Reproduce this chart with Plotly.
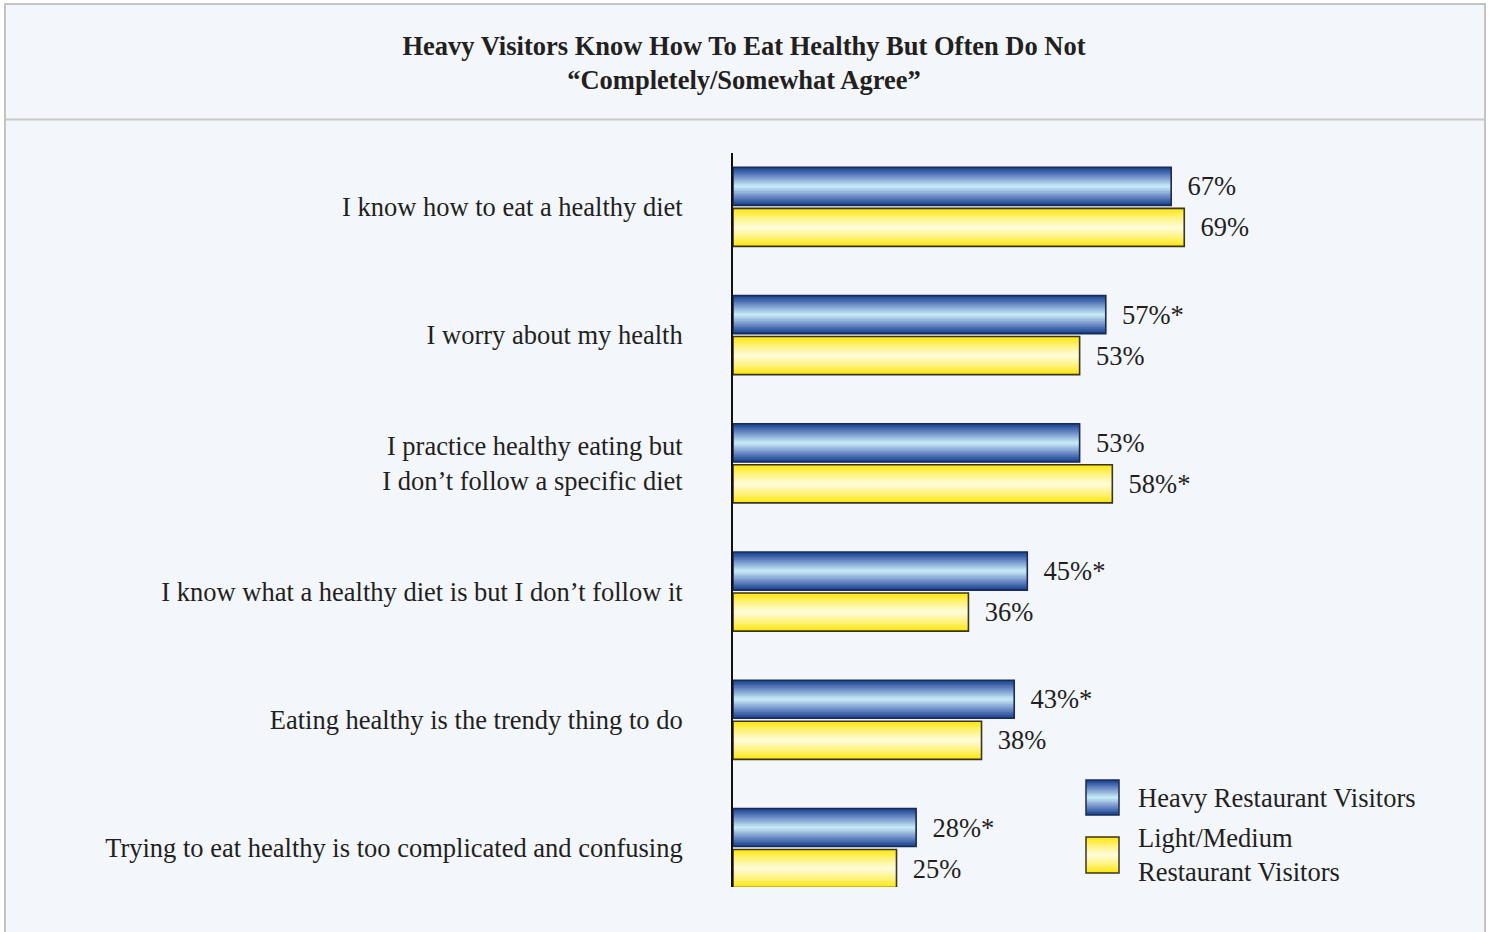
import plotly.graph_objects as go

# ---------------- data ----------------
categories = [
    "I know how to eat a healthy diet",
    "I worry about my health",
    "I practice healthy eating but<br>I don\u2019t follow a specific diet",
    "I know what a healthy diet is but I don\u2019t follow it",
    "Eating healthy is the trendy thing to do",
    "Trying to eat healthy is too complicated and confusing",
]
heavy = [67, 57, 53, 45, 43, 28]
light = [69, 53, 58, 36, 38, 25]
heavy_labels = ["67%", "57%*", "53%", "45%*", "43%*", "28%*"]
light_labels = ["69%", "53%", "58%*", "36%", "38%", "25%"]
series_names = ["Heavy Restaurant Visitors", "Light/Medium<br>Restaurant Visitors"]
title_text = "Heavy Visitors Know How To Eat Healthy But Often Do Not<br>\u201cCompletely/Somewhat Agree\u201d"

# ---------------- styling ----------------
W, H = 1491, 932
PL, PR, PT, PB = 733, 1387, 153, 887   # plot area in pixels
FONT = "Liberation Serif, Times New Roman, serif"
TXT = "#231f20"
FS = 26.5
BAR_W = 0.297
OFF = 0.16
K = 12  # gradient layers

blue_stops = [(0.0, (0x1a, 0x45, 0x90)), (0.45, (0x6a, 0x88, 0xc5)), (1.0, (0xc2, 0xe6, 0xf3))]
yellow_stops = [(0.0, (0xff, 0xe6, 0x10)), (0.5, (0xff, 0xf3, 0x80)), (1.0, (0xff, 0xfb, 0xd4))]


def interp(stops, t):
    for (t0, c0), (t1, c1) in zip(stops[:-1], stops[1:]):
        if t <= t1:
            f = (t - t0) / (t1 - t0) if t1 > t0 else 0
            c = [round(a + (b - a) * f) for a, b in zip(c0, c1)]
            return "rgb(%d,%d,%d)" % tuple(c)
    return "rgb(%d,%d,%d)" % stops[-1][1]


def px_x(px):
    return (px - PL) / (PR - PL)


def px_y(py):
    return (PB - py) / (PB - PT)


fig = go.Figure()

for vals, labels, stops, center, outline in [
    (heavy, heavy_labels, blue_stops, -OFF, "#1b2a55"),
    (light, light_labels, yellow_stops, OFF, "#3a3520"),
]:
    for k in range(K):
        w = BAR_W * (1 - k / K)
        fig.add_trace(go.Bar(
            x=vals, y=categories, orientation="h",
            width=w, offset=center - w / 2,
            marker=dict(color=interp(stops, k / (K - 1)), line=dict(width=0)),
            showlegend=False, hoverinfo="skip",
        ))
    # outline + value labels
    fig.add_trace(go.Bar(
        x=vals, y=categories, orientation="h",
        width=BAR_W, offset=center - BAR_W / 2,
        marker=dict(color="rgba(0,0,0,0)", line=dict(width=1.6, color=outline)),
        text=["\u00a0\u00a0" + t for t in labels], textposition="outside",
        textfont=dict(family=FONT, size=FS, color=TXT),
        constraintext="none", cliponaxis=False,
        showlegend=False, hoverinfo="x+y",
    ))

shapes = [
    # outer frame
    dict(type="rect", xref="paper", yref="paper",
         x0=px_x(5), x1=px_x(1485), y0=px_y(945), y1=px_y(4),
         line=dict(color="#c3c3c3", width=2), fillcolor="#f3f6fb", layer="below"),
    # separator under title
    dict(type="line", xref="paper", yref="paper",
         x0=px_x(5), x1=px_x(1485), y0=px_y(119.5), y1=px_y(119.5),
         line=dict(color="#c8c8c8", width=2), layer="below"),
]

# legend swatches (manual, gradient by nested rects)
annotations = []
for (top, bot), stops, outline, name in [
    ((780, 815), blue_stops, "#1b2a55", series_names[0]),
    ((837, 873), yellow_stops, "#3a3520", series_names[1]),
]:
    hgt = bot - top
    for k in range(K):
        inset = hgt * (k / K) / 2
        shapes.append(dict(type="rect", xref="paper", yref="paper",
                           x0=px_x(1086), x1=px_x(1119),
                           y0=px_y(bot - inset), y1=px_y(top + inset),
                           line=dict(width=0), fillcolor=interp(stops, k / (K - 1))))
    shapes.append(dict(type="rect", xref="paper", yref="paper",
                       x0=px_x(1086), x1=px_x(1119), y0=px_y(bot), y1=px_y(top),
                       line=dict(width=1.5, color=outline), fillcolor="rgba(0,0,0,0)"))
    annotations.append(dict(xref="paper", yref="paper", x=px_x(1136), y=px_y((top + bot) / 2),
                            text=name, showarrow=False, xanchor="left", yanchor="middle",
                            align="left", font=dict(family=FONT, size=FS, color=TXT)))

fig.update_layout(
    width=W, height=H,
    margin=dict(l=PL, r=W - PR, t=PT, b=H - PB, pad=0),
    paper_bgcolor="white", plot_bgcolor="rgba(0,0,0,0)",
    barmode="overlay",
    showlegend=False,
    title=dict(text="<b>" + title_text + "</b>", x=0.499, xanchor="center",
               y=1 - 55 / H, yanchor="top", xref="container", yref="container",
               font=dict(family=FONT, size=FS, color=TXT)),
    xaxis=dict(range=[0, 100], visible=False, fixedrange=True),
    yaxis=dict(categoryorder="array", categoryarray=categories,
               range=[5.304, -0.42], showline=True, linecolor="#111", linewidth=2,
               ticks="", ticklabelstandoff=43, showgrid=False, zeroline=False,
               tickfont=dict(family=FONT, size=FS, color=TXT)),
    shapes=shapes,
    annotations=annotations,
    font=dict(family=FONT, color=TXT),
)

fig.write_html("out.html")
